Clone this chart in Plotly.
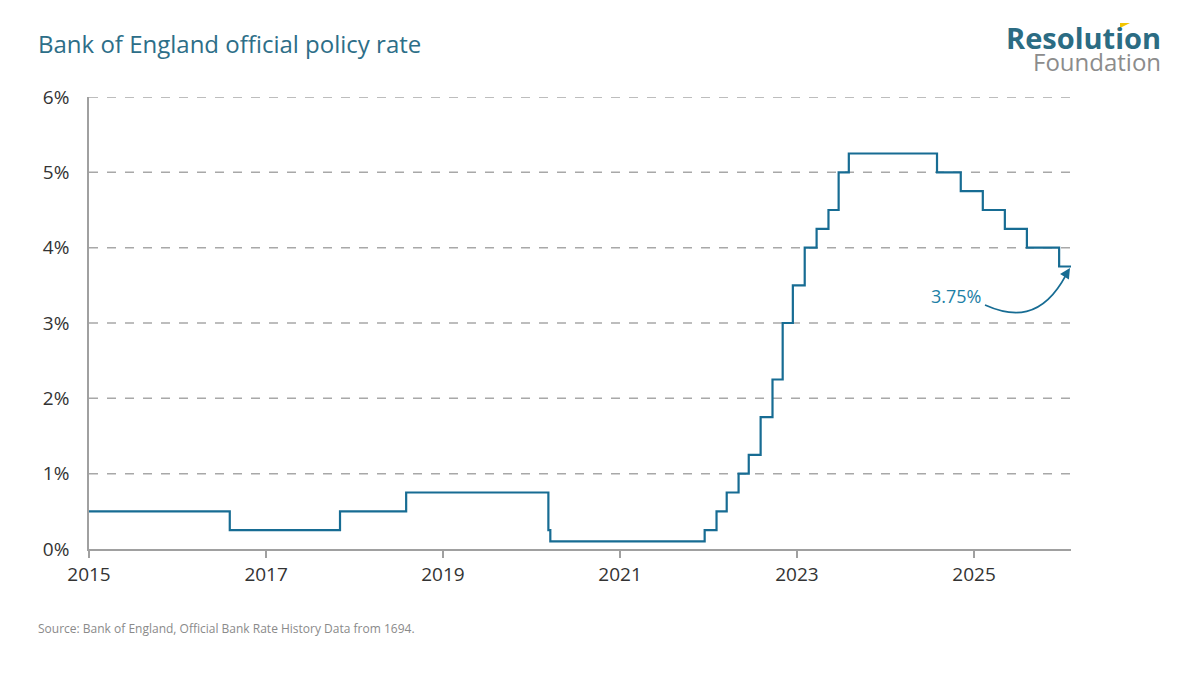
import plotly.graph_objects as go

# Bank Rate change dates and new rates (%)
dates = ["2015-01-01", "2016-08-04", "2017-11-02", "2018-08-02", "2020-03-11",
         "2020-03-19", "2021-12-16", "2022-02-03", "2022-03-17", "2022-05-05",
         "2022-06-16", "2022-08-04", "2022-09-22", "2022-11-03", "2022-12-15",
         "2023-02-02", "2023-03-23", "2023-05-11", "2023-06-22", "2023-08-03",
         "2024-08-01", "2024-11-07", "2025-02-06", "2025-05-08", "2025-08-07",
         "2025-12-18", "2026-02-05"]
rates = [0.5, 0.25, 0.5, 0.75, 0.25,
         0.1, 0.25, 0.5, 0.75, 1.0,
         1.25, 1.75, 2.25, 3.0, 3.5,
         4.0, 4.25, 4.5, 5.0, 5.25,
         5.0, 4.75, 4.5, 4.25, 4.0,
         3.75, 3.75]

x_ticks = ["2015-01-01", "2017-01-01", "2019-01-01", "2021-01-01", "2023-01-01", "2025-01-01"]
x_tick_labels = ["2015", "2017", "2019", "2021", "2023", "2025"]
y_ticks = [0, 1, 2, 3, 4, 5, 6]
y_tick_labels = ["0%", "1%", "2%", "3%", "4%", "5%", "6%"]

FONT = "Open Sans"
LINE = "#176c93"

# screen plot-area box (page has 8px body margin)
L, R, T, B = 89, 1071, 97, 549
OFF = 8
W, H = 1192, 667

def px(xp):
    return (xp - L) / float(R - L)

def py(yp):
    return (B - yp) / float(B - T)

fig = go.Figure()
fig.add_trace(go.Scatter(x=dates, y=rates, mode="lines", line_shape="hv",
                         line=dict(color=LINE, width=2.2), hoverinfo="skip",
                         showlegend=False))

# gridlines (dashed) for 1..6
for v in y_ticks[1:]:
    fig.add_shape(type="line", xref="paper", yref="y", x0=0, x1=1, y0=v, y1=v,
                  line=dict(color="#a8a8a8", width=1.5, dash="dash"), layer="below")

fig.update_layout(
    width=W, height=H,
    paper_bgcolor="white", plot_bgcolor="white",
    margin=dict(l=L - OFF, r=W - (R - OFF), t=T - OFF, b=H - (B - OFF), pad=0),
    font=dict(family=FONT, size=18, color="#333333"),
    xaxis=dict(type="date", range=["2015-01-01", "2026-02-05"],
               tickvals=x_ticks, ticktext=x_tick_labels,
               showgrid=False, zeroline=False, showline=True,
               linecolor="#a0a0a0", linewidth=1.5, ticks="outside",
               ticklen=7, tickcolor="#a0a0a0", tickwidth=1.5,
               tickfont=dict(size=19, color="#333333")),
    yaxis=dict(range=[0, 6], tickvals=y_ticks, ticktext=y_tick_labels,
               showgrid=False, zeroline=False, showline=True,
               linecolor="#a0a0a0", linewidth=1.5, ticks="",
               ticklabelstandoff=14,
               tickfont=dict(size=19, color="#333333")),
)

# curved arrow
path = "M {},{} C {},{} {},{} {},{}".format(px(985), py(305), px(1012), py(317),
                                           px(1042), py(320), px(1066), py(275))
fig.add_shape(type="path", xref="paper", yref="paper", path=path,
              line=dict(color=LINE, width=1.6))

annotations = [
    dict(x=px(1070), y=py(268), xref="paper", yref="paper", ax=-5, ay=8,
         axref="pixel", ayref="pixel", text="", showarrow=True, arrowhead=2,
         arrowsize=1.3, arrowwidth=1.6, arrowcolor=LINE),
    dict(x=px(983), y=py(296), xref="paper", yref="paper", text="3.75%",
         showarrow=False, xanchor="right", yanchor="middle",
         font=dict(size=18, color="#1d7fa6", family=FONT)),
    dict(x=px(36), y=py(44), xref="paper", yref="paper",
         xanchor="left", yanchor="middle", showarrow=False,
         text="Bank of England official policy rate",
         font=dict(size=24, color="#2d6e88", family=FONT)),
    dict(x=px(36), y=py(628), xref="paper", yref="paper",
         xanchor="left", yanchor="middle", showarrow=False,
         text="Source: Bank of England, Official Bank Rate History Data from 1694.",
         font=dict(size=12, color="#8a8a8a", family=FONT)),
    dict(x=px(1163), y=py(37), xref="paper", yref="paper",
         xanchor="right", yanchor="middle", showarrow=False,
         text="<b>Resolution</b>",
         font=dict(size=29, color="#2b6c83", family=FONT)),
    dict(x=px(1163), y=py(61), xref="paper", yref="paper",
         xanchor="right", yanchor="middle", showarrow=False,
         text="Foundation",
         font=dict(size=24, color="#8c8c8c", family=FONT)),
]
fig.update_layout(annotations=annotations)

# small yellow accent on logo
fig.add_shape(type="path", xref="paper", yref="paper",
              path="M {},{} L {},{} L {},{} Z".format(px(1120), py(23),
                                                   px(1130), py(23),
                                                   px(1120), py(28)),
              fillcolor="#f2c500", line=dict(width=0))

fig.write_html("out.html")
